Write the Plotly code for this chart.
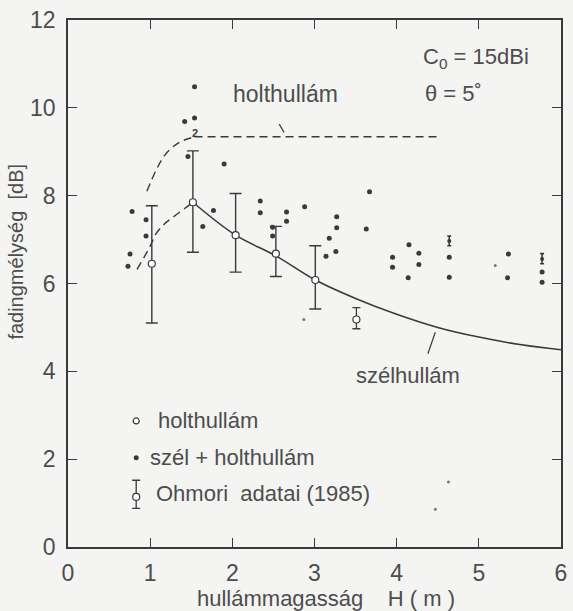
import plotly.graph_objects as go

# ---------------- data ----------------
# szél + holthullám (filled dots)
wind_x = [1.54, 1.42, 1.54, 1.46, 1.90, 0.78, 0.95, 0.95, 0.755, 0.73, 1.77, 1.64,
          2.34, 2.34, 2.66, 2.66, 2.49, 2.49, 2.88, 3.67, 3.27, 3.27, 3.63, 3.18,
          3.14, 3.26, 3.95, 3.95, 4.15, 4.27, 4.27, 4.14, 4.64, 4.64, 5.36, 5.35,
          5.77, 5.77]
wind_y = [10.48, 9.69, 9.77, 8.89, 8.72, 7.64, 7.45, 7.08, 6.67, 6.39, 7.66, 7.30,
          7.88, 7.61, 7.63, 7.42, 7.28, 7.08, 7.75, 8.09, 7.52, 7.27, 7.24, 7.03,
          6.62, 6.73, 6.60, 6.37, 6.88, 6.69, 6.43, 6.13, 6.60, 6.14, 6.67, 6.13,
          6.26, 6.03]
# faint specks
speck_x = [4.63, 4.47, 2.87, 5.20]
speck_y = [1.48, 0.86, 5.18, 6.41]

# holthullám means with ranges (open circles)
swell_x = [1.02, 1.52, 2.04, 2.53, 3.01]
swell_y = [6.45, 7.85, 7.10, 6.68, 6.08]
swell_top = [7.77, 9.02, 8.05, 7.30, 6.86]
swell_bot = [5.10, 6.71, 6.26, 6.16, 5.42]

# Ohmori adatai (1985)
ohm_x = [3.51]
ohm_y = [5.18]
ohm_top = [5.45]
ohm_bot = [4.97]
ohm_small_x = [4.64, 5.77]
ohm_small_y = [6.97, 6.56]
ohm_small_top = [7.08, 6.68]
ohm_small_bot = [6.86, 6.45]

# szélhullám curve (solid)
wcurve_x = [1.52, 2.04, 2.53, 3.01, 3.5, 4.0, 4.5, 5.0, 5.5, 6.0]
wcurve_y = [7.85, 7.10, 6.63, 6.08, 5.66, 5.30, 5.00, 4.78, 4.61, 4.49]
# holthullám dashed curves
lower_x = [0.84, 1.0, 1.07, 1.17, 1.27, 1.45, 1.52]
lower_y = [6.32, 6.85, 7.13, 7.35, 7.50, 7.75, 7.85]
upper_x = [0.96, 1.07, 1.19, 1.35, 1.54]
upper_y = [8.10, 8.57, 8.95, 9.21, 9.34]
plateau_x = [1.54, 4.54]
plateau_y = [9.34, 9.34]

x_ticks = [0, 1, 2, 3, 4, 5, 6]
y_ticks = [0, 2, 4, 6, 8, 10, 12]

# ---------------- style ----------------
INK = "#3a3a3a"
TXT = "#4d4d4d"
BG = "#f4f4f2"
FONT = "Liberation Sans, Arial, sans-serif"
DASH = "8px,5px"

fig = go.Figure()

fig.add_trace(go.Scatter(x=upper_x, y=upper_y, mode="lines",
                         line=dict(color=INK, width=1.4, dash=DASH, shape="spline")))
fig.add_trace(go.Scatter(x=plateau_x, y=plateau_y, mode="lines",
                         line=dict(color=INK, width=1.4, dash=DASH)))
fig.add_trace(go.Scatter(x=lower_x, y=lower_y, mode="lines",
                         line=dict(color=INK, width=1.4, dash=DASH, shape="spline")))
fig.add_trace(go.Scatter(x=wcurve_x, y=wcurve_y, mode="lines",
                         line=dict(color=INK, width=1.6, shape="spline", smoothing=1.0)))

fig.add_trace(go.Scatter(x=wind_x, y=wind_y, mode="markers",
                         marker=dict(color=INK, size=5)))
fig.add_trace(go.Scatter(x=speck_x, y=speck_y, mode="markers",
                         marker=dict(color="#777", size=3)))

fig.add_trace(go.Scatter(
    x=swell_x, y=swell_y, mode="markers",
    marker=dict(color="white", size=7, line=dict(color=INK, width=1.2)),
    error_y=dict(type="data", symmetric=False,
                 array=[t - v for t, v in zip(swell_top, swell_y)],
                 arrayminus=[v - b for v, b in zip(swell_y, swell_bot)],
                 color=INK, thickness=1.4, width=6)))

fig.add_trace(go.Scatter(
    x=ohm_x, y=ohm_y, mode="markers",
    marker=dict(color="white", size=7, line=dict(color=INK, width=1.2)),
    error_y=dict(type="data", symmetric=False,
                 array=[t - v for t, v in zip(ohm_top, ohm_y)],
                 arrayminus=[v - b for v, b in zip(ohm_y, ohm_bot)],
                 color=INK, thickness=1.3, width=4)))

fig.add_trace(go.Scatter(
    x=ohm_small_x, y=ohm_small_y, mode="markers",
    marker=dict(color=INK, size=4),
    error_y=dict(type="data", symmetric=False,
                 array=[t - v for t, v in zip(ohm_small_top, ohm_small_y)],
                 arrayminus=[v - b for v, b in zip(ohm_small_y, ohm_small_bot)],
                 color=INK, thickness=1.6, width=2)))

# legend symbols (drawn manually)
LEG_X = 0.83
fig.add_trace(go.Scatter(x=[LEG_X], y=[2.87], mode="markers",
                         marker=dict(color="white", size=6, line=dict(color=INK, width=1.2))))
fig.add_trace(go.Scatter(x=[LEG_X], y=[2.03], mode="markers",
                         marker=dict(color=INK, size=5)))
fig.add_trace(go.Scatter(x=[LEG_X], y=[1.14], mode="markers",
                         marker=dict(color="white", size=7, line=dict(color=INK, width=1.2)),
                         error_y=dict(type="data", symmetric=False, array=[0.38],
                                      arrayminus=[0.26], color=INK, thickness=1.3, width=4)))

# leader lines for the curve labels
shapes = [
    dict(type="line", xref="x", yref="y", x0=2.57, y0=9.63, x1=2.63, y1=9.44,
         line=dict(color=INK, width=1.2)),
    dict(type="line", xref="x", yref="y", x0=4.47, y0=4.89, x1=4.38, y1=4.40,
         line=dict(color=INK, width=1.2)),
]

tf = dict(family=FONT, size=22, color=TXT)
ann = []
ann.append(dict(x=2.65, y=10.32, text="holthullám", showarrow=False,
                font=dict(family=FONT, size=23, color=TXT)))
ann.append(dict(x=4.14, y=3.91, text="szélhullám", showarrow=False, font=tf))
ann.append(dict(x=4.29, y=11.14, text="C<sub>0</sub> = 15dBi", xanchor="left",
                showarrow=False, font=tf))
ann.append(dict(x=4.32, y=10.32, text="θ = 5˚", xanchor="left",
                showarrow=False, font=tf))
ann.append(dict(x=1.54, y=9.42, text="<b>2</b>", showarrow=False,
                font=dict(family=FONT, size=11, color=INK)))
ann.append(dict(x=1.07, y=2.87, text="holthullám", xanchor="left", showarrow=False, font=tf))
ann.append(dict(x=0.97, y=2.03, text="szél + holthullám", xanchor="left", showarrow=False, font=tf))
ann.append(dict(x=1.05, y=1.22, text="Ohmori  adatai (1985)", xanchor="left", showarrow=False, font=tf))
# axis titles
ann.append(dict(xref="paper", yref="paper", x=0.523, y=-0.097, xanchor="center", yanchor="middle",
                text="hullámmagasság    H ( m )",
                showarrow=False, font=dict(family=FONT, size=22, color=TXT)))
ann.append(dict(xref="paper", yref="paper", x=-0.106, y=0.56, xanchor="center", yanchor="middle",
                text="fadingmélység  [dB]",
                textangle=-90, showarrow=False, font=dict(family=FONT, size=20, color=TXT)))

axis_common = dict(showgrid=False, zeroline=False, showline=True, linecolor=INK, linewidth=1.5,
                   mirror="ticks", ticks="inside", ticklen=9, tickwidth=1.2, tickcolor=INK,
                   tickfont=dict(family=FONT, size=23, color=TXT))

fig.update_layout(
    width=573, height=611,
    margin=dict(l=68, r=6, t=20, b=64),
    paper_bgcolor=BG, plot_bgcolor=BG,
    showlegend=False,
    annotations=ann,
    shapes=shapes,
    xaxis=dict(range=[0, 6], tickvals=x_ticks, ticktext=[str(v) for v in x_ticks],
               ticklabelstandoff=5, **axis_common),
    yaxis=dict(range=[0, 12], tickvals=y_ticks, ticktext=[str(v) for v in y_ticks],
               ticklabelstandoff=6, **axis_common),
)

fig.write_html("out.html")
